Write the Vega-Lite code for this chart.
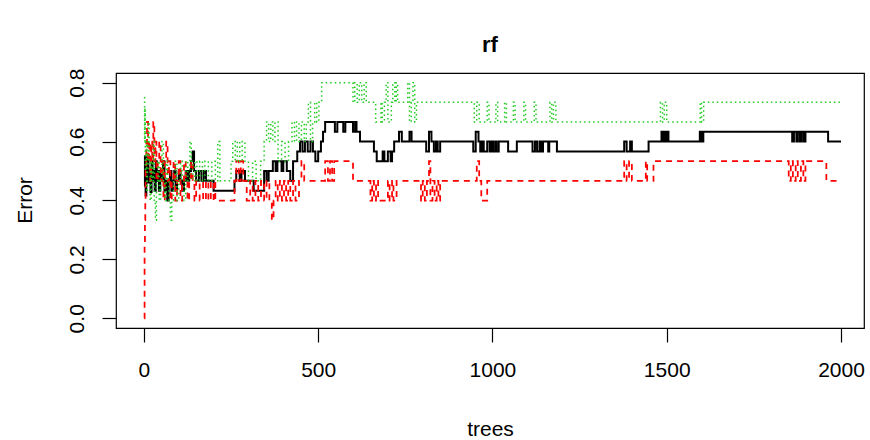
{
  "$schema": "https://vega.github.io/schema/vega-lite/v6.json",
  "autosize": {"type": "none"},
  "width": 748,
  "height": 255,
  "padding": {"left": 116, "top": 73, "right": 6, "bottom": 112},
  "background": "white",
  "title": {"text": "rf", "fontSize": 22, "fontWeight": "bold", "font": "Liberation Sans", "color": "black", "anchor": "middle", "baseline": "alphabetic", "offset": 0, "dy": 6},
  "config": {
    "view": {"stroke": "black", "strokeWidth": 1.2},
    "axis": {"domain": false, "grid": false, "tickColor": "black", "tickWidth": 1.2, "tickSize": 14, "labelFont": "Liberation Sans", "labelFontSize": 21, "labelColor": "black", "titleFont": "Liberation Sans", "titleFontSize": 21, "titleFontWeight": "normal", "titleColor": "black", "labelFlush": false, "labelOverlap": false}
  },
  "data": {"values": [
    {"series":"OOB","trees":1,"error":0.45},{"series":"OOB","trees":3,"error":0.55},{"series":"OOB","trees":5,"error":0.4167},{"series":"OOB","trees":7,"error":0.5},{"series":"OOB","trees":10,"error":0.5455},{"series":"OOB","trees":13,"error":0.4615},{"series":"OOB","trees":16,"error":0.5},{"series":"OOB","trees":19,"error":0.4286},{"series":"OOB","trees":22,"error":0.5333},{"series":"OOB","trees":25,"error":0.4667},{"series":"OOB","trees":28,"error":0.5},{"series":"OOB","trees":31,"error":0.4333},{"series":"OOB","trees":34,"error":0.5333},{"series":"OOB","trees":37,"error":0.4667},{"series":"OOB","trees":40,"error":0.5},{"series":"OOB","trees":43,"error":0.4333},{"series":"OOB","trees":47,"error":0.5},{"series":"OOB","trees":51,"error":0.4667},{"series":"OOB","trees":55,"error":0.5333},{"series":"OOB","trees":59,"error":0.4333},{"series":"OOB","trees":63,"error":0.4667},{"series":"OOB","trees":67,"error":0.4},{"series":"OOB","trees":71,"error":0.4667},{"series":"OOB","trees":75,"error":0.5},{"series":"OOB","trees":79,"error":0.4333},{"series":"OOB","trees":83,"error":0.4667},{"series":"OOB","trees":87,"error":0.5},{"series":"OOB","trees":91,"error":0.4333},{"series":"OOB","trees":95,"error":0.4667},{"series":"OOB","trees":100,"error":0.5},{"series":"OOB","trees":105,"error":0.4667},{"series":"OOB","trees":110,"error":0.4333},{"series":"OOB","trees":115,"error":0.4667},{"series":"OOB","trees":120,"error":0.5},{"series":"OOB","trees":125,"error":0.4667},{"series":"OOB","trees":130,"error":0.5},{"series":"OOB","trees":135,"error":0.5333},{"series":"OOB","trees":140,"error":0.5667},{"series":"OOB","trees":144,"error":0.5},{"series":"OOB","trees":150,"error":0.4667},{"series":"OOB","trees":158,"error":0.5},{"series":"OOB","trees":165,"error":0.4667},{"series":"OOB","trees":172,"error":0.5},{"series":"OOB","trees":178,"error":0.4667},{"series":"OOB","trees":200,"error":0.4333},{"series":"OOB","trees":260,"error":0.4667},{"series":"OOB","trees":265,"error":0.5},{"series":"OOB","trees":275,"error":0.4667},{"series":"OOB","trees":280,"error":0.5},{"series":"OOB","trees":290,"error":0.4667},{"series":"OOB","trees":315,"error":0.4333},{"series":"OOB","trees":345,"error":0.5},{"series":"OOB","trees":352,"error":0.4667},{"series":"OOB","trees":358,"error":0.5},{"series":"OOB","trees":370,"error":0.5333},{"series":"OOB","trees":378,"error":0.5},{"series":"OOB","trees":383,"error":0.5333},{"series":"OOB","trees":395,"error":0.5},{"series":"OOB","trees":400,"error":0.5333},{"series":"OOB","trees":410,"error":0.5},{"series":"OOB","trees":420,"error":0.4667},{"series":"OOB","trees":428,"error":0.5333},{"series":"OOB","trees":440,"error":0.5667},{"series":"OOB","trees":448,"error":0.6},{"series":"OOB","trees":455,"error":0.5667},{"series":"OOB","trees":462,"error":0.6},{"series":"OOB","trees":470,"error":0.5667},{"series":"OOB","trees":478,"error":0.6},{"series":"OOB","trees":485,"error":0.5667},{"series":"OOB","trees":492,"error":0.5333},{"series":"OOB","trees":500,"error":0.5667},{"series":"OOB","trees":508,"error":0.6},{"series":"OOB","trees":514,"error":0.6333},{"series":"OOB","trees":520,"error":0.6667},{"series":"OOB","trees":548,"error":0.6333},{"series":"OOB","trees":555,"error":0.6667},{"series":"OOB","trees":572,"error":0.6333},{"series":"OOB","trees":578,"error":0.6667},{"series":"OOB","trees":600,"error":0.6333},{"series":"OOB","trees":606,"error":0.6667},{"series":"OOB","trees":610,"error":0.6333},{"series":"OOB","trees":620,"error":0.6},{"series":"OOB","trees":660,"error":0.5667},{"series":"OOB","trees":668,"error":0.5333},{"series":"OOB","trees":685,"error":0.5667},{"series":"OOB","trees":690,"error":0.5333},{"series":"OOB","trees":700,"error":0.5667},{"series":"OOB","trees":708,"error":0.5333},{"series":"OOB","trees":712,"error":0.5667},{"series":"OOB","trees":718,"error":0.6},{"series":"OOB","trees":732,"error":0.6333},{"series":"OOB","trees":740,"error":0.6},{"series":"OOB","trees":762,"error":0.6333},{"series":"OOB","trees":768,"error":0.6},{"series":"OOB","trees":810,"error":0.5667},{"series":"OOB","trees":818,"error":0.6333},{"series":"OOB","trees":825,"error":0.6},{"series":"OOB","trees":832,"error":0.5667},{"series":"OOB","trees":838,"error":0.6},{"series":"OOB","trees":843,"error":0.5667},{"series":"OOB","trees":850,"error":0.6},{"series":"OOB","trees":945,"error":0.5667},{"series":"OOB","trees":952,"error":0.6333},{"series":"OOB","trees":960,"error":0.6},{"series":"OOB","trees":965,"error":0.5667},{"series":"OOB","trees":970,"error":0.6},{"series":"OOB","trees":975,"error":0.5667},{"series":"OOB","trees":985,"error":0.6},{"series":"OOB","trees":992,"error":0.5667},{"series":"OOB","trees":997,"error":0.6},{"series":"OOB","trees":1002,"error":0.5667},{"series":"OOB","trees":1008,"error":0.6},{"series":"OOB","trees":1012,"error":0.5667},{"series":"OOB","trees":1018,"error":0.6},{"series":"OOB","trees":1045,"error":0.5667},{"series":"OOB","trees":1070,"error":0.6},{"series":"OOB","trees":1115,"error":0.5667},{"series":"OOB","trees":1122,"error":0.6},{"series":"OOB","trees":1128,"error":0.5667},{"series":"OOB","trees":1135,"error":0.6},{"series":"OOB","trees":1140,"error":0.5667},{"series":"OOB","trees":1145,"error":0.6},{"series":"OOB","trees":1160,"error":0.5667},{"series":"OOB","trees":1163,"error":0.6},{"series":"OOB","trees":1185,"error":0.5667},{"series":"OOB","trees":1378,"error":0.6},{"series":"OOB","trees":1385,"error":0.5667},{"series":"OOB","trees":1395,"error":0.6},{"series":"OOB","trees":1400,"error":0.5667},{"series":"OOB","trees":1448,"error":0.6},{"series":"OOB","trees":1485,"error":0.6333},{"series":"OOB","trees":1488,"error":0.6},{"series":"OOB","trees":1492,"error":0.6333},{"series":"OOB","trees":1495,"error":0.6},{"series":"OOB","trees":1500,"error":0.6333},{"series":"OOB","trees":1505,"error":0.6},{"series":"OOB","trees":1595,"error":0.6333},{"series":"OOB","trees":1600,"error":0.6},{"series":"OOB","trees":1605,"error":0.6333},{"series":"OOB","trees":1860,"error":0.6},{"series":"OOB","trees":1865,"error":0.6333},{"series":"OOB","trees":1872,"error":0.6},{"series":"OOB","trees":1876,"error":0.6333},{"series":"OOB","trees":1882,"error":0.6},{"series":"OOB","trees":1887,"error":0.6333},{"series":"OOB","trees":1893,"error":0.6},{"series":"OOB","trees":1898,"error":0.6333},{"series":"OOB","trees":1963,"error":0.6},{"series":"OOB","trees":2000,"error":0.6},

    {"series":"1","trees":1,"error":0},{"series":"1","trees":2,"error":0.25},{"series":"1","trees":3,"error":0.3333},{"series":"1","trees":4,"error":0.4},{"series":"1","trees":5,"error":0.5},{"series":"1","trees":7,"error":0.6},{"series":"1","trees":9,"error":0.6667},{"series":"1","trees":12,"error":0.5333},{"series":"1","trees":15,"error":0.6},{"series":"1","trees":18,"error":0.4667},{"series":"1","trees":21,"error":0.6},{"series":"1","trees":24,"error":0.5333},{"series":"1","trees":27,"error":0.6667},{"series":"1","trees":30,"error":0.5333},{"series":"1","trees":33,"error":0.6},{"series":"1","trees":36,"error":0.4667},{"series":"1","trees":40,"error":0.5333},{"series":"1","trees":44,"error":0.6},{"series":"1","trees":48,"error":0.4667},{"series":"1","trees":52,"error":0.5333},{"series":"1","trees":56,"error":0.4},{"series":"1","trees":60,"error":0.5333},{"series":"1","trees":64,"error":0.6},{"series":"1","trees":68,"error":0.4667},{"series":"1","trees":72,"error":0.5333},{"series":"1","trees":76,"error":0.4},{"series":"1","trees":80,"error":0.4667},{"series":"1","trees":85,"error":0.5333},{"series":"1","trees":90,"error":0.4},{"series":"1","trees":95,"error":0.4667},{"series":"1","trees":100,"error":0.5333},{"series":"1","trees":105,"error":0.4},{"series":"1","trees":110,"error":0.4667},{"series":"1","trees":115,"error":0.5333},{"series":"1","trees":120,"error":0.4667},{"series":"1","trees":125,"error":0.4},{"series":"1","trees":130,"error":0.4667},{"series":"1","trees":135,"error":0.5333},{"series":"1","trees":140,"error":0.4667},{"series":"1","trees":145,"error":0.4},{"series":"1","trees":150,"error":0.4667},{"series":"1","trees":160,"error":0.4},{"series":"1","trees":170,"error":0.4667},{"series":"1","trees":178,"error":0.4},{"series":"1","trees":185,"error":0.4667},{"series":"1","trees":192,"error":0.4},{"series":"1","trees":200,"error":0.4667},{"series":"1","trees":205,"error":0.4},{"series":"1","trees":260,"error":0.4667},{"series":"1","trees":265,"error":0.5333},{"series":"1","trees":272,"error":0.4667},{"series":"1","trees":278,"error":0.5333},{"series":"1","trees":285,"error":0.4667},{"series":"1","trees":295,"error":0.4},{"series":"1","trees":305,"error":0.4667},{"series":"1","trees":312,"error":0.4},{"series":"1","trees":320,"error":0.4667},{"series":"1","trees":328,"error":0.4},{"series":"1","trees":336,"error":0.4667},{"series":"1","trees":345,"error":0.4},{"series":"1","trees":352,"error":0.4667},{"series":"1","trees":360,"error":0.4},{"series":"1","trees":367,"error":0.3333},{"series":"1","trees":372,"error":0.4},{"series":"1","trees":378,"error":0.4667},{"series":"1","trees":384,"error":0.4},{"series":"1","trees":390,"error":0.4667},{"series":"1","trees":396,"error":0.4},{"series":"1","trees":402,"error":0.4667},{"series":"1","trees":408,"error":0.4},{"series":"1","trees":414,"error":0.4667},{"series":"1","trees":420,"error":0.4},{"series":"1","trees":428,"error":0.4667},{"series":"1","trees":435,"error":0.4},{"series":"1","trees":445,"error":0.4667},{"series":"1","trees":452,"error":0.5333},{"series":"1","trees":460,"error":0.4667},{"series":"1","trees":520,"error":0.5333},{"series":"1","trees":528,"error":0.4667},{"series":"1","trees":534,"error":0.5333},{"series":"1","trees":540,"error":0.4667},{"series":"1","trees":546,"error":0.5333},{"series":"1","trees":600,"error":0.4667},{"series":"1","trees":650,"error":0.4},{"series":"1","trees":655,"error":0.4667},{"series":"1","trees":660,"error":0.4},{"series":"1","trees":666,"error":0.4667},{"series":"1","trees":672,"error":0.4},{"series":"1","trees":700,"error":0.4667},{"series":"1","trees":705,"error":0.4},{"series":"1","trees":712,"error":0.4667},{"series":"1","trees":716,"error":0.4},{"series":"1","trees":725,"error":0.4667},{"series":"1","trees":795,"error":0.4},{"series":"1","trees":800,"error":0.4667},{"series":"1","trees":806,"error":0.4},{"series":"1","trees":812,"error":0.4667},{"series":"1","trees":818,"error":0.5333},{"series":"1","trees":822,"error":0.4},{"series":"1","trees":828,"error":0.4667},{"series":"1","trees":834,"error":0.4},{"series":"1","trees":840,"error":0.4667},{"series":"1","trees":845,"error":0.4},{"series":"1","trees":850,"error":0.4667},{"series":"1","trees":955,"error":0.5333},{"series":"1","trees":962,"error":0.4667},{"series":"1","trees":968,"error":0.4},{"series":"1","trees":985,"error":0.4667},{"series":"1","trees":1378,"error":0.5333},{"series":"1","trees":1385,"error":0.4667},{"series":"1","trees":1392,"error":0.5333},{"series":"1","trees":1400,"error":0.4667},{"series":"1","trees":1440,"error":0.5333},{"series":"1","trees":1444,"error":0.4667},{"series":"1","trees":1462,"error":0.5333},{"series":"1","trees":1850,"error":0.4667},{"series":"1","trees":1856,"error":0.5333},{"series":"1","trees":1862,"error":0.4667},{"series":"1","trees":1870,"error":0.5333},{"series":"1","trees":1876,"error":0.4667},{"series":"1","trees":1885,"error":0.5333},{"series":"1","trees":1892,"error":0.4667},{"series":"1","trees":1898,"error":0.5333},{"series":"1","trees":1958,"error":0.4667},{"series":"1","trees":2000,"error":0.4667},

    {"series":"2","trees":1,"error":0.75},{"series":"2","trees":2,"error":0.6},{"series":"2","trees":3,"error":0.7143},{"series":"2","trees":4,"error":0.5},{"series":"2","trees":6,"error":0.6},{"series":"2","trees":8,"error":0.4286},{"series":"2","trees":10,"error":0.5},{"series":"2","trees":12,"error":0.6667},{"series":"2","trees":15,"error":0.5333},{"series":"2","trees":18,"error":0.4},{"series":"2","trees":21,"error":0.5333},{"series":"2","trees":24,"error":0.4667},{"series":"2","trees":27,"error":0.6},{"series":"2","trees":30,"error":0.4},{"series":"2","trees":33,"error":0.3333},{"series":"2","trees":36,"error":0.4667},{"series":"2","trees":40,"error":0.5333},{"series":"2","trees":44,"error":0.4},{"series":"2","trees":48,"error":0.4667},{"series":"2","trees":52,"error":0.6},{"series":"2","trees":56,"error":0.4667},{"series":"2","trees":60,"error":0.4},{"series":"2","trees":64,"error":0.5333},{"series":"2","trees":68,"error":0.4667},{"series":"2","trees":72,"error":0.4},{"series":"2","trees":76,"error":0.3333},{"series":"2","trees":80,"error":0.4},{"series":"2","trees":85,"error":0.4667},{"series":"2","trees":90,"error":0.5333},{"series":"2","trees":95,"error":0.4},{"series":"2","trees":100,"error":0.4667},{"series":"2","trees":105,"error":0.5333},{"series":"2","trees":110,"error":0.4667},{"series":"2","trees":115,"error":0.4},{"series":"2","trees":120,"error":0.5333},{"series":"2","trees":126,"error":0.4667},{"series":"2","trees":132,"error":0.6},{"series":"2","trees":136,"error":0.5333},{"series":"2","trees":140,"error":0.4667},{"series":"2","trees":146,"error":0.5333},{"series":"2","trees":152,"error":0.4667},{"series":"2","trees":160,"error":0.5333},{"series":"2","trees":168,"error":0.4667},{"series":"2","trees":175,"error":0.5333},{"series":"2","trees":185,"error":0.4667},{"series":"2","trees":195,"error":0.5333},{"series":"2","trees":205,"error":0.4667},{"series":"2","trees":212,"error":0.6},{"series":"2","trees":218,"error":0.4667},{"series":"2","trees":250,"error":0.5333},{"series":"2","trees":255,"error":0.6},{"series":"2","trees":262,"error":0.5333},{"series":"2","trees":268,"error":0.6},{"series":"2","trees":275,"error":0.5333},{"series":"2","trees":282,"error":0.6},{"series":"2","trees":290,"error":0.5333},{"series":"2","trees":300,"error":0.4667},{"series":"2","trees":312,"error":0.5333},{"series":"2","trees":322,"error":0.4667},{"series":"2","trees":335,"error":0.5333},{"series":"2","trees":345,"error":0.6},{"series":"2","trees":352,"error":0.6667},{"series":"2","trees":358,"error":0.6},{"series":"2","trees":364,"error":0.6667},{"series":"2","trees":370,"error":0.6},{"series":"2","trees":376,"error":0.6667},{"series":"2","trees":385,"error":0.5333},{"series":"2","trees":395,"error":0.6},{"series":"2","trees":405,"error":0.5333},{"series":"2","trees":415,"error":0.6},{"series":"2","trees":425,"error":0.6667},{"series":"2","trees":432,"error":0.6},{"series":"2","trees":438,"error":0.6667},{"series":"2","trees":445,"error":0.6},{"series":"2","trees":452,"error":0.6667},{"series":"2","trees":460,"error":0.6},{"series":"2","trees":466,"error":0.6667},{"series":"2","trees":472,"error":0.7333},{"series":"2","trees":478,"error":0.6},{"series":"2","trees":484,"error":0.6667},{"series":"2","trees":490,"error":0.7333},{"series":"2","trees":496,"error":0.6667},{"series":"2","trees":502,"error":0.7333},{"series":"2","trees":510,"error":0.8},{"series":"2","trees":600,"error":0.7333},{"series":"2","trees":605,"error":0.8},{"series":"2","trees":612,"error":0.7333},{"series":"2","trees":618,"error":0.8},{"series":"2","trees":625,"error":0.7333},{"series":"2","trees":632,"error":0.8},{"series":"2","trees":638,"error":0.7333},{"series":"2","trees":665,"error":0.6667},{"series":"2","trees":680,"error":0.7333},{"series":"2","trees":684,"error":0.6667},{"series":"2","trees":690,"error":0.7333},{"series":"2","trees":695,"error":0.8},{"series":"2","trees":700,"error":0.6667},{"series":"2","trees":710,"error":0.7333},{"series":"2","trees":714,"error":0.8},{"series":"2","trees":720,"error":0.7333},{"series":"2","trees":724,"error":0.8},{"series":"2","trees":728,"error":0.7333},{"series":"2","trees":757,"error":0.8},{"series":"2","trees":762,"error":0.6667},{"series":"2","trees":767,"error":0.7333},{"series":"2","trees":772,"error":0.8},{"series":"2","trees":777,"error":0.6667},{"series":"2","trees":782,"error":0.7333},{"series":"2","trees":948,"error":0.6667},{"series":"2","trees":955,"error":0.7333},{"series":"2","trees":962,"error":0.6667},{"series":"2","trees":985,"error":0.7333},{"series":"2","trees":990,"error":0.6667},{"series":"2","trees":1010,"error":0.7333},{"series":"2","trees":1015,"error":0.6667},{"series":"2","trees":1035,"error":0.7333},{"series":"2","trees":1040,"error":0.6667},{"series":"2","trees":1060,"error":0.7333},{"series":"2","trees":1065,"error":0.6667},{"series":"2","trees":1090,"error":0.7333},{"series":"2","trees":1095,"error":0.6667},{"series":"2","trees":1120,"error":0.7333},{"series":"2","trees":1125,"error":0.6667},{"series":"2","trees":1165,"error":0.7333},{"series":"2","trees":1170,"error":0.6667},{"series":"2","trees":1175,"error":0.7333},{"series":"2","trees":1182,"error":0.6667},{"series":"2","trees":1482,"error":0.7333},{"series":"2","trees":1488,"error":0.6667},{"series":"2","trees":1493,"error":0.7333},{"series":"2","trees":1500,"error":0.6667},{"series":"2","trees":1596,"error":0.7333},{"series":"2","trees":1600,"error":0.6667},{"series":"2","trees":1606,"error":0.7333},{"series":"2","trees":2000,"error":0.7333}
  ]},
  "mark": {"type": "line", "interpolate": "step-after", "clip": true},
  "encoding": {
    "x": {"field": "trees", "type": "quantitative", "scale": {"domain": [-80, 2066], "nice": false, "zero": false},
      "axis": {"values": [0, 500, 1000, 1500, 2000], "format": "d", "title": "trees", "labelPadding": 17, "titleY": 107, "titleBaseline": "alphabetic"}},
    "y": {"field": "error", "type": "quantitative", "scale": {"domain": [-0.033, 0.833], "nice": false, "zero": false},
      "axis": {"values": [0, 0.2, 0.4, 0.6, 0.8], "format": ".1f", "title": "Error", "labelAngle": -90, "labelAlign": "center", "labelBaseline": "bottom", "labelPadding": 15, "titleX": -85, "titleY": 127, "titleAngle": -90, "titleAlign": "center", "titleBaseline": "alphabetic"}},
    "color": {"field": "series", "type": "nominal", "scale": {"domain": ["OOB", "1", "2"], "range": ["#000000", "#FF0000", "#22CC22"]}, "legend": null},
    "strokeDash": {"field": "series", "type": "nominal", "scale": {"domain": ["OOB", "1", "2"], "range": [[1, 0], [6, 5], [1.5, 3]]}, "legend": null},
    "strokeWidth": {"field": "series", "type": "nominal", "scale": {"domain": ["OOB", "1", "2"], "range": [2, 1.5, 1.6]}, "legend": null},
    "order": {"field": "trees", "type": "quantitative"}
  }
}
